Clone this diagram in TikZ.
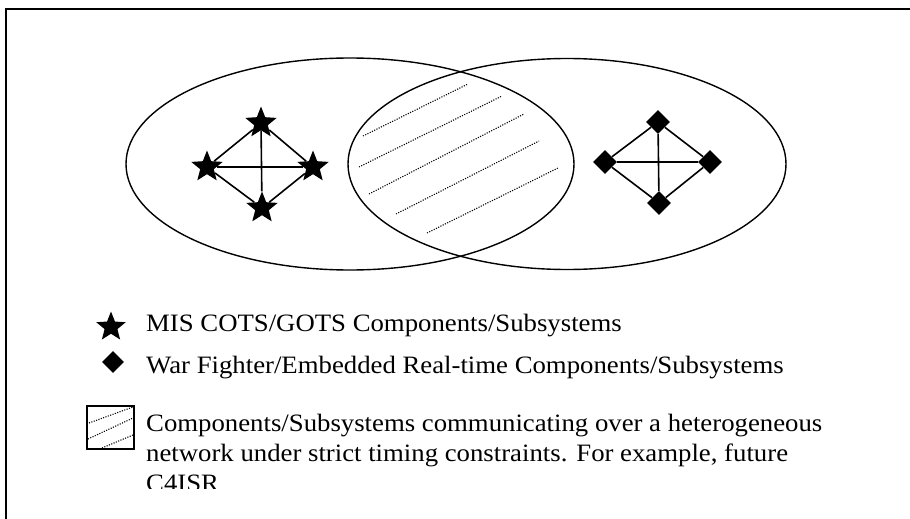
\documentclass[tikz,border=0pt]{standalone}
\usepackage{fontspec}
\setmainfont{Liberation Serif}[FakeStretch=1.07]
\usetikzlibrary{shapes.geometric}
\begin{document}
\begin{tikzpicture}[x=1pt,y=-1pt,
  frameline/.style={line width=1.4pt},
  oval/.style={line width=1.4pt},
  link/.style={line width=1.6pt},
  starnode/.style={star, star points=5, star point ratio=2.3, fill=black, draw=none, inner sep=0pt, minimum size=#1},
  starnode/.default=33pt,
  dianode/.style={diamond, aspect=1, fill=black, draw=none, inner sep=0pt, minimum size=#1},
  dianode/.default=24pt,
  hatch/.style={line width=1.1pt, dash pattern=on 1.1pt off 1.4pt},
  legendtext/.style={anchor=base west, inner sep=0pt, font=\fontsize{25}{30}\selectfont}
]
\useasboundingbox (0,0) rectangle (910,519);

% outer frame (right and bottom edges lie outside the picture)
\draw[frameline] (910,9) -- (6,9) -- (6,519);

% ellipses
\draw[oval] (350,164) ellipse [x radius=224pt, y radius=106pt];
\draw[oval] (567,164) ellipse [x radius=219pt, y radius=105.5pt];

% hatching of the intersection
\draw[hatch] (363,136) -- (468,84);
\draw[hatch] (359,167) -- (502,96);
\draw[hatch] (369,194) -- (524,114);
\draw[hatch] (396,214) -- (539,141);
\draw[hatch] (427,233) -- (558,168);

% star graph
\node[starnode] (st) at (261,123) {};
\node[starnode] (sl) at (207,167) {};
\node[starnode] (sr) at (313,167) {};
\node[starnode] (sb) at (262,208) {};
\draw[link] (st) -- (sl);
\draw[link] (st) -- (sr);
\draw[link] (sb) -- (sl);
\draw[link] (sb) -- (sr);
\draw[link] (sl) -- (sr);
\draw[link] (st) -- (sb);

% diamond graph
\node[dianode] (dt) at (658,122) {};
\node[dianode] (dl) at (605,162) {};
\node[dianode] (dr) at (710,162) {};
\node[dianode] (db) at (659,203) {};
\draw[link] (dt) -- (dl);
\draw[link] (dt) -- (dr);
\draw[link] (db) -- (dl);
\draw[link] (db) -- (dr);
\draw[link] (dl) -- (dr);
\draw[link] (dt) -- (db);

% legend
\node[starnode=31pt] (lstar) at (111,327) {};
\node[dianode=22pt] (ldia) at (113,362) {};
\node[draw, line width=1.4pt, inner sep=0pt, minimum width=47pt, minimum height=43pt] (lbox) at (110.5,427.5) {};
\draw[hatch] (89,423) -- (133,407);
\draw[hatch] (88,439) -- (133,418);
\draw[hatch] (102,448) -- (133,435);

\node[legendtext] (t1) at (146,331) {MIS COTS/GOTS Components/Subsystems};
\node[legendtext] (t2) at (146,373) {War Fighter/Embedded Real-time Components/Subsystems};
\node[legendtext] (t3) at (146,431) {Components/Subsystems communicating over a heterogeneous};
\node[legendtext] (t4) at (146,461) {network under strict timing constraints. For example, future};
\begin{scope}
\clip (140,470) rectangle (600,488);
\node[legendtext] (t5) at (146,491) {C4ISR};
\end{scope}
\end{tikzpicture}
\end{document}
